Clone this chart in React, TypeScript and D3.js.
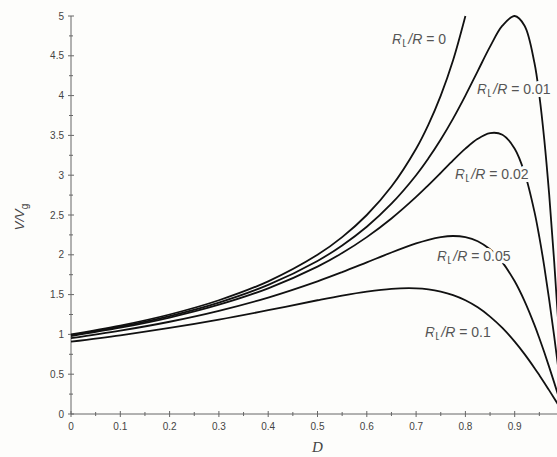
import React from 'react';
import * as d3 from 'd3';

// duty cycle samples
const dIdeal = [0, 0.1, 0.2, 0.3, 0.4, 0.5, 0.55, 0.6, 0.65, 0.7, 0.725, 0.75, 0.775, 0.8];
const dLoss = [
  0, 0.1, 0.2, 0.3, 0.4, 0.5, 0.55, 0.6, 0.65, 0.7, 0.725, 0.75, 0.775, 0.8, 0.825, 0.85,
  0.875, 0.9, 0.92, 0.94, 0.95, 0.96, 0.97, 0.98, 0.99, 1.0,
];

// V/Vg
const gain0 = [1.0, 1.111, 1.25, 1.429, 1.667, 2.0, 2.222, 2.5, 2.857, 3.333, 3.636, 4.0, 4.444, 5.0];
const gain001 = [
  0.99, 1.098, 1.231, 1.4, 1.622, 1.923, 2.118, 2.353, 2.642, 3.0, 3.212, 3.448, 3.711, 4.0, 4.308,
  4.615, 4.878, 5.0, 4.878, 4.412, 4.0, 3.448, 2.752, 1.923, 0.99, 0,
];
const gain002 = [
  0.98, 1.084, 1.212, 1.373, 1.579, 1.852, 2.022, 2.222, 2.456, 2.727, 2.876, 3.03, 3.186, 3.333,
  3.457, 3.529, 3.509, 3.333, 3.03, 2.542, 2.222, 1.852, 1.435, 0.98, 0.498, 0,
];
const gain005 = [
  0.952, 1.047, 1.159, 1.296, 1.463, 1.667, 1.782, 1.905, 2.029, 2.143, 2.189, 2.222, 2.236, 2.222,
  2.171, 2.069, 1.905, 1.667, 1.418, 1.119, 0.952, 0.775, 0.589, 0.397, 0.2, 0,
];
const gain01 = [
  0.909, 0.989, 1.081, 1.186, 1.304, 1.429, 1.488, 1.538, 1.573, 1.579, 1.566, 1.538, 1.494, 1.429,
  1.34, 1.224, 1.081, 0.909, 0.752, 0.579, 0.488, 0.394, 0.297, 0.199, 0.1, 0,
];

const curveLabels = ['0', '0.01', '0.02', '0.05', '0.1'];
const xTicks = [0, 0.1, 0.2, 0.3, 0.4, 0.5, 0.6, 0.7, 0.8, 0.9];
const yTicks = [0, 0.5, 1, 1.5, 2, 2.5, 3, 3.5, 4, 4.5, 5];

const width = 557;
const height = 457;
const sans = 'Liberation Sans, Arial, sans-serif';
const serif = 'Liberation Serif, Times New Roman, serif';

export default function App() {
  const x = d3.scaleLinear().domain([0, 1]).range([71, 564]);
  const y = d3.scaleLinear().domain([0, 5]).range([414, 16]);

  const line = d3
    .line<[number, number]>()
    .x((d) => x(d[0]))
    .y((d) => y(d[1]))
    .curve(d3.curveCatmullRom.alpha(0.5));

  const series = [
    { xs: dIdeal, ys: gain0 },
    { xs: dLoss, ys: gain001 },
    { xs: dLoss, ys: gain002 },
    { xs: dLoss, ys: gain005 },
    { xs: dLoss, ys: gain01 },
  ];

  // label anchors (left edge, baseline) in pixels
  const labelPos = [
    [392, 44],
    [477, 94],
    [455, 179],
    [437, 261],
    [425, 337],
  ];

  const xMinor = d3.range(0.05, 1, 0.1);
  const yMinor = d3.range(0.25, 5, 0.5);
  const axisColor = '#666';
  const textColor = '#444';

  return (
    <svg
      width={width}
      height={height}
      style={{ position: 'absolute', left: 0, top: 0, background: '#fdfdfb' }}
    >
      {/* axes */}
      <g stroke={axisColor} strokeWidth={1}>
        <line x1={x(0)} x2={x(1)} y1={y(0)} y2={y(0)} />
        <line x1={x(0)} x2={x(0)} y1={y(0)} y2={y(5)} />
        {xTicks.map((t) => (
          <line key={'xt' + t} x1={x(t)} x2={x(t)} y1={y(0) - 3} y2={y(0) + 3} />
        ))}
        {xMinor.map((t) => (
          <line key={'xm' + t} x1={x(t)} x2={x(t)} y1={y(0) - 2} y2={y(0) + 2} />
        ))}
        {yTicks.map((t) => (
          <line key={'yt' + t} x1={x(0) - 3} x2={x(0) + 3} y1={y(t)} y2={y(t)} />
        ))}
        {yMinor.map((t) => (
          <line key={'ym' + t} x1={x(0) - 2} x2={x(0) + 2} y1={y(t)} y2={y(t)} />
        ))}
      </g>
      <g fontFamily={sans} fontSize={10} fill={textColor}>
        {xTicks.map((t) => (
          <text key={'xl' + t} x={x(t)} y={y(0) + 16} textAnchor="middle">
            {String(t)}
          </text>
        ))}
        {yTicks.map((t) => (
          <text key={'yl' + t} x={x(0) - 7} y={y(t) + 3.5} textAnchor="end">
            {String(t)}
          </text>
        ))}
      </g>

      {/* axis titles */}
      <text
        x={x(0.5)}
        y={452}
        textAnchor="middle"
        fontFamily={serif}
        fontStyle="italic"
        fontSize={15}
        fill={textColor}
      >
        D
      </text>
      <text
        transform={`translate(24, ${y(2.5) + 2}) rotate(-90)`}
        textAnchor="middle"
        fontFamily={sans}
        fontSize={13}
        fill={textColor}
      >
        <tspan fontStyle="italic">V</tspan>
        <tspan fontStyle="italic">/</tspan>
        <tspan fontStyle="italic">V</tspan>
        <tspan fontSize={10} dy={4}>
          g
        </tspan>
      </text>

      {/* curves */}
      <g fill="none" stroke="#111" strokeWidth={1.8}>
        {series.map((s, i) => (
          <path key={i} d={line(s.xs.map((d, j) => [d, s.ys[j]] as [number, number])) || ''} />
        ))}
      </g>

      {/* curve labels */}
      <g
        fontFamily={sans}
        fontSize={14}
        fill="#555"
        stroke="#fdfdfb"
        strokeWidth={6}
        strokeLinejoin="round"
        style={{ paintOrder: 'stroke' }}
      >
        {curveLabels.map((lab, i) => (
          <text key={lab} x={labelPos[i][0]} y={labelPos[i][1]}>
            <tspan fontStyle="italic">R</tspan>
            <tspan fontSize={11} dy={3}>
              L
            </tspan>
            <tspan dy={-3} fontStyle="italic">
              /R
            </tspan>
            <tspan>{' = ' + lab}</tspan>
          </text>
        ))}
      </g>
    </svg>
  );
}
